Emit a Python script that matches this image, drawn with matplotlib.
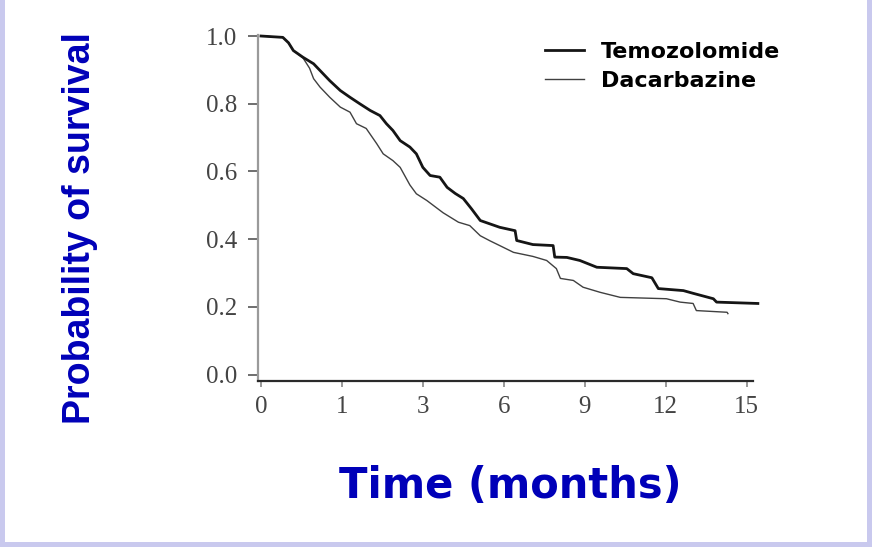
import numpy as np
import matplotlib
matplotlib.use("Agg")
import matplotlib.pyplot as plt
from matplotlib.patches import Rectangle

# === Data (time in months, survival probability) ===
temo_t = [0, 0.27, 0.34, 0.40, 0.52, 0.65, 0.77, 0.85, 0.98, 1.2, 1.44, 1.7, 1.94,
          2.1, 2.26, 2.44, 2.68, 2.84, 3.0, 3.27, 3.63, 3.9, 4.2, 4.5, 4.8, 5.13,
          5.49, 5.85, 6.42, 6.48, 7.08, 7.83, 7.89, 8.34, 8.82, 9.45, 10.56, 10.8,
          11.49, 11.73, 12.66, 13.02, 13.77, 13.89, 15.42]
temo_s = [1.0, 0.996, 0.98, 0.957, 0.937, 0.918, 0.888, 0.868, 0.839, 0.819, 0.80,
          0.78, 0.765, 0.741, 0.721, 0.691, 0.672, 0.652, 0.612, 0.588, 0.583,
          0.553, 0.535, 0.52, 0.49, 0.455, 0.445, 0.435, 0.425, 0.396, 0.384,
          0.381, 0.347, 0.346, 0.337, 0.317, 0.313, 0.298, 0.286, 0.254, 0.248,
          0.240, 0.224, 0.214, 0.21]

daca_t = [0, 0.27, 0.34, 0.40, 0.52, 0.60, 0.65, 0.73, 0.85, 0.98, 1.2, 1.36, 1.6,
          1.86, 2.02, 2.26, 2.44, 2.68, 2.84, 3.15, 3.75, 4.32, 4.74, 5.13, 5.49,
          5.85, 6.36, 7.08, 7.59, 7.95, 8.1, 8.58, 8.94, 9.57, 10.32, 12.03, 12.54,
          13.02, 13.14, 14.28, 14.31]
daca_s = [1.0, 0.996, 0.98, 0.957, 0.935, 0.905, 0.874, 0.849, 0.819, 0.79, 0.775,
          0.741, 0.727, 0.682, 0.652, 0.632, 0.612, 0.56, 0.534, 0.514, 0.478,
          0.45, 0.44, 0.41, 0.395, 0.381, 0.361, 0.349, 0.337, 0.313, 0.284,
          0.278, 0.258, 0.243, 0.228, 0.224, 0.214, 0.21, 0.189, 0.184, 0.18]

x_ticks = [0, 1, 3, 6, 9, 12, 15]
y_ticks = [0.0, 0.2, 0.4, 0.6, 0.8, 1.0]
y_tick_labels = ["0.0", "0.2", "0.4", "0.6", "0.8", "1.0"]

# tick labels are evenly spaced on the axis, so map months onto tick positions
_m = np.array([-3, 0, 1, 3, 6, 9, 12, 15, 18], dtype=float)
_p = np.array([-3, 0, 1, 2, 3, 4, 5, 6, 7], dtype=float)


def forward(v):
    return np.interp(v, _m, _p)


def inverse(v):
    return np.interp(v, _p, _m)


blue = "#0000b8"
fig = plt.figure(figsize=(8.72, 5.47), dpi=100, facecolor="#c9c9ee")
fig.patches.append(Rectangle((5 / 872, 5 / 547), 862 / 872, 1, transform=fig.transFigure,
                             facecolor="white", edgecolor="none", zorder=-1))

ax = fig.add_axes([258 / 872, 166 / 547, 495 / 872, 346 / 547])
ax.set_facecolor("none")
ax.set_xscale("function", functions=(forward, inverse))

ax.plot(temo_t, temo_s, color="#151515", lw=2.0,
        label="Temozolomide", clip_on=False, zorder=3)
ax.plot(daca_t, daca_s, color="#404040", lw=1.0,
        label="Dacarbazine", clip_on=False, zorder=2)

ax.set_xlim(-0.037, 15.24)
ax.set_ylim(-0.019, 1.003)
ax.set_xticks(x_ticks)
ax.set_xticklabels([str(t) for t in x_ticks])
ax.set_yticks(y_ticks)
ax.set_yticklabels(y_tick_labels)

for s in ["top", "right"]:
    ax.spines[s].set_visible(False)
ax.spines["left"].set_color("#9a9a9a")
ax.spines["left"].set_linewidth(1.6)
ax.spines["bottom"].set_color("#2a2a2a")
ax.spines["bottom"].set_linewidth(1.6)

ax.tick_params(axis="y", direction="out", length=7, width=1.2, color="#555555",
               pad=8, labelsize=18, labelcolor="#444444")
ax.tick_params(axis="x", direction="out", length=4, width=1.2, color="#888888",
               pad=7, labelsize=18, labelcolor="#444444")
for lab in ax.get_xticklabels() + ax.get_yticklabels():
    lab.set_fontfamily("Liberation Serif")

fig.legend(loc="upper left", bbox_to_anchor=(545 / 872, 1 - 42 / 547), frameon=False,
           borderpad=0, borderaxespad=0, handlelength=1.75, handletextpad=0.75,
           labelspacing=0.4, prop={"family": "DejaVu Sans", "weight": "bold", "size": 16})

fig.text(80 / 872, 1 - 228 / 547, "Probability of survival", rotation=90,
         ha="center", va="center", color=blue, fontsize=27,
         fontfamily="Liberation Sans", fontweight="bold")
fig.text(510 / 872, 1 - 486 / 547, "Time (months)", ha="center", va="center",
         color=blue, fontsize=30, fontfamily="DejaVu Sans", fontweight="bold")

fig.savefig("out.png", dpi=100, facecolor=fig.get_facecolor())
